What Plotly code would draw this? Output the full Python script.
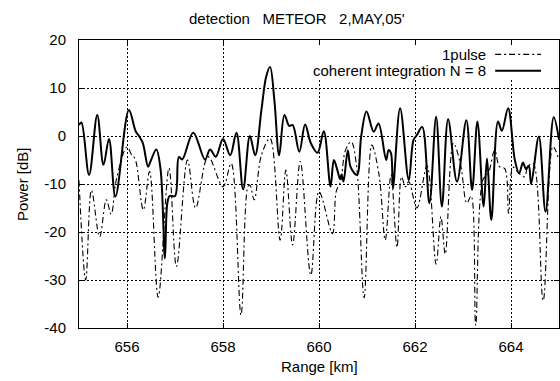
import plotly.graph_objects as go

# ---- data ----
range_1pulse = [655.00, 655.14, 655.26, 655.43, 655.57, 655.67, 655.78, 656.00, 656.10, 656.17,
                656.34, 656.47, 656.65, 656.875, 657.03, 657.26, 657.43, 657.69, 658.00, 658.17,
                658.375, 658.52, 658.56, 658.65, 658.80, 658.98, 659.19, 659.31, 659.45, 659.61,
                659.83, 660.00, 660.28, 660.36, 660.45, 660.55, 660.67, 660.78, 660.94, 661.10,
                661.25, 661.38, 661.50, 661.625, 661.72, 661.80, 661.87, 662.04, 662.25, 662.44,
                662.54, 662.63, 662.80, 662.95, 663.08, 663.17, 663.265, 663.42, 663.52, 663.66,
                663.76, 663.87, 663.95, 664.04, 664.15, 664.28, 664.35, 664.46, 664.67, 664.875,
                665.00]
power_1pulse = [-9.2, -30.0, -11.3, -21.0, -13.3, -16.3, -9.0, -2.3, -4.0, -4.8,
                -15.4, -7.4, -33.6, -6.7, -27.2, -5.0, -15.0, -4.3, -10.6, -5.7,
                -37.3, -10.5, -10.2, -13.3, -4.0, -0.5, -21.7, -7.1, -22.7, -5.3,
                -29.0, -11.6, -20.3, -11.5, -9.5, -3.0, -1.2, -6.0, -33.7, -1.9,
                -8.0, -21.7, -8.1, -23.2, -8.5, -10.6, -9.5, -15.0, -6.2, -26.7,
                -16.8, -24.6, -1.5, -6.0, -14.0, -12.5, -39.4, -9.0, -8.0, -3.0,
                -6.4, -6.8, -16.1, -6.5, -7.6, -8.5, -6.4, -5.7, -34.3, -2.2,
                -5.0]

range_coh = [655.00, 655.05, 655.21, 655.38, 655.51, 655.625, 655.76, 656.04, 656.18, 656.25,
             656.33, 656.44, 656.49, 656.61, 656.70, 656.79, 656.84, 656.89, 657.00, 657.08,
             657.15, 657.38, 657.625, 657.73, 657.85, 658.00, 658.15, 658.28, 658.42, 658.56,
             658.67, 658.80, 658.90, 658.98, 659.07, 659.17, 659.28, 659.38, 659.45, 659.59,
             659.71, 659.83, 659.97, 660.10, 660.24, 660.31, 660.38, 660.44, 660.47, 660.51,
             660.60, 660.66, 660.79, 660.88, 660.99, 661.14, 661.24, 661.40, 661.45, 661.50,
             661.54, 661.69, 661.87, 661.97, 662.04, 662.15, 662.30, 662.44, 662.56, 662.69,
             662.875, 663.07, 663.19, 663.30, 663.43, 663.50, 663.59, 663.73, 663.81, 663.94,
             664.08, 664.17, 664.25, 664.31, 664.37, 664.42, 664.58, 664.72, 664.89, 665.00]
power_coh = [2.3, 2.8, -8.1, 4.4, -6.0, -0.6, -12.6, 5.4, 1.0, 0.0,
             -1.5, -6.4, -5.3, -2.8, -7.0, -25.5, -14.0, -12.5, -12.5, -4.4,
             -4.9, 0.7, -4.9, -2.8, -4.3, -0.6, -4.0, 0.7, -11.1, 0.0,
             -4.0, 5.4, 12.4, 14.4, 7.5, -4.0, 4.4, 2.1, 2.3, -3.3,
             2.4, -1.5, -3.5, 1.0, -10.5, -5.0, -7.0, -9.0, -8.0, -9.5,
             -3.0, -6.5, -8.1, 0.0, 5.1, 0.9, 2.6, -5.0, -2.9, -3.6,
             -10.9, 5.8, -9.2, -0.8, 0.2, 1.9, -14.0, 4.0, -14.7, 3.5,
             -9.5, 3.3, -11.25, 3.0, -14.7, -4.7, -17.5, 3.0, 1.1, 5.8,
             -5.0, -7.8, -5.5, -6.9, -6.2, -10.0, -0.1, -15.8, 3.9, -0.8]

x_ticks = [656, 658, 660, 662, 664]
y_ticks = [-40, -30, -20, -10, 0, 10, 20]
y_tick_labels = ["-40", "-30", "-20", "-10", "0", "10", "20"]

NB = "\u00a0"
title_text = "detection" + NB * 3 + "METEOR" + NB * 3 + "2,MAY,05'"
series_names = ["1pulse", "coherent integration N = 8"]

FONT = "Liberation Sans, Arial, Helvetica, sans-serif"
FS = 15
DASHDOT = "6px,3px,2px,3px"

fig = go.Figure()
fig.add_trace(go.Scatter(x=range_1pulse, y=power_1pulse, mode="lines", name=series_names[0],
                         line=dict(color="black", width=1.1, dash=DASHDOT, shape="spline", smoothing=1.0),
                         showlegend=False, hoverinfo="skip"))
fig.add_trace(go.Scatter(x=range_coh, y=power_coh, mode="lines", name=series_names[1],
                         line=dict(color="black", width=2, shape="spline", smoothing=1.0),
                         showlegend=False, hoverinfo="skip"))

axis_common = dict(showline=True, linecolor="black", linewidth=1, mirror="allticks",
                   ticks="inside", ticklen=5, tickcolor="black",
                   showgrid=True, gridcolor="black", gridwidth=1, griddash="2px,2px",
                   zeroline=False, tickfont=dict(family=FONT, size=FS, color="black"))

fig.update_xaxes(range=[655, 665], tickvals=x_ticks, ticklabelstandoff=5, **axis_common)
fig.update_yaxes(range=[-40, 20], tickvals=y_ticks, ticktext=y_tick_labels, ticklabelstandoff=9,
                 **axis_common)

# key area blanks the grid (as in the reference)
fig.add_shape(type="rect", xref="x", yref="y", x0=659.52, x1=664.75, y0=12.1, y1=19.9,
              fillcolor="white", line=dict(width=0), layer="between")

# key: right-aligned text with line samples on the right
fig.add_annotation(xref="paper", yref="paper", x=0.852, y=0.950, text=series_names[0],
                   showarrow=False, xanchor="right", yanchor="middle",
                   font=dict(family=FONT, size=FS, color="black"))
fig.add_annotation(xref="paper", yref="paper", x=0.852, y=0.893, text=series_names[1],
                   showarrow=False, xanchor="right", yanchor="middle",
                   font=dict(family=FONT, size=FS, color="black"))
fig.add_shape(type="line", xref="paper", yref="paper", x0=0.867, x1=0.9625, y0=0.950, y1=0.950,
              line=dict(color="black", width=1.1, dash=DASHDOT), layer="above")
fig.add_shape(type="line", xref="paper", yref="paper", x0=0.867, x1=0.9625, y0=0.893, y1=0.893,
              line=dict(color="black", width=2), layer="above")

# title and axis labels
fig.add_annotation(xref="paper", yref="paper", x=0.454, y=1.076, text=title_text,
                   showarrow=False, xanchor="center", yanchor="middle",
                   font=dict(family=FONT, size=FS, color="black"))
fig.add_annotation(xref="paper", yref="paper", x=0.5, y=-0.135, text="Range [km]",
                   showarrow=False, xanchor="center", yanchor="middle",
                   font=dict(family=FONT, size=FS, color="black"))
fig.add_annotation(xref="paper", yref="paper", x=-0.119, y=0.5, text="Power [dB]", textangle=-90,
                   showarrow=False, xanchor="center", yanchor="middle",
                   font=dict(family=FONT, size=FS, color="black"))

fig.update_layout(width=560, height=381, margin=dict(l=79, r=1, t=40, b=53, autoexpand=False),
                  paper_bgcolor="white", plot_bgcolor="white", showlegend=False,
                  hovermode=False,
                  font=dict(family=FONT, size=FS, color="black"))

fig.write_html("out.html", config={"displayModeBar": False, "staticPlot": True},
               post_script="document.body.style.margin='0px';")
